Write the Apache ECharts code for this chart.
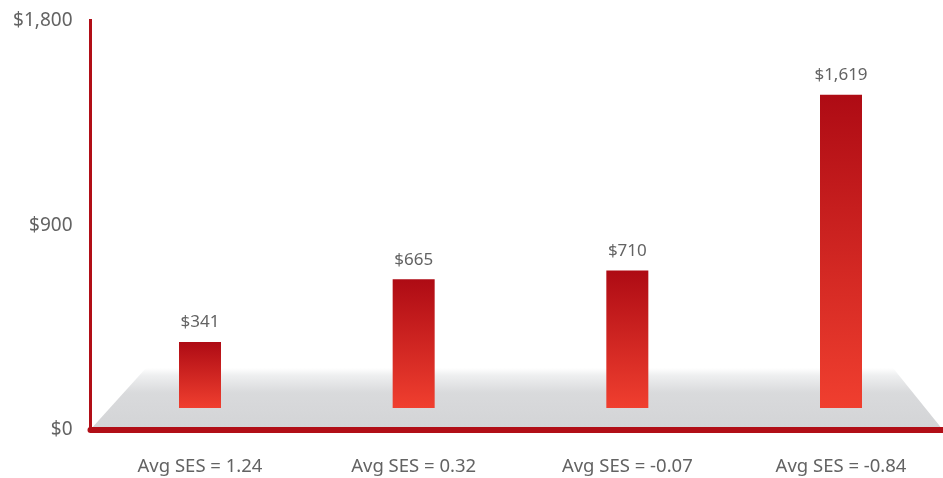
<!DOCTYPE html>
<html>
<head>
<meta charset="utf-8">
<script src="https://cdn.jsdelivr.net/npm/echarts@6/dist/echarts.min.js"></script>
<style>
  html, body { margin: 0; padding: 0; background: #fff; }
  #chart { width: 943px; height: 478px; }
</style>
</head>
<body>
<div id="chart"></div>
<script>
  // chart data
  var categories = ['Avg SES = 1.24', 'Avg SES = 0.32', 'Avg SES = -0.07', 'Avg SES = -0.84']
  var spending = [341, 665, 710, 1619]
  var yTicks = [0, 900, 1800]

  var red = '#b10e17'
  var textColor = '#636363'
  var font = '"Noto Sans", sans-serif'

  function money(v) {
    return '$' + Number(v).toLocaleString('en-US')
  }

  var chart = echarts.init(document.getElementById('chart'))

  var option = {
    animation: false,
    grid: [
      // visible frame: y axis and red baseline
      { left: 90.5, right: 0, top: 20.5, bottom: 48, containLabel: false },
      // bars sit on the grey floor
      { left: 200, right: 102, top: 21, bottom: 70, containLabel: false }
    ],
    graphic: [
      {
        type: 'polygon',
        z: -1,
        silent: true,
        shape: { points: [[90, 430], [146, 368], [893, 368], [943, 430]] },
        style: {
          fill: new echarts.graphic.LinearGradient(0, 0, 0, 1, [
            { offset: 0, color: '#ffffff' },
            { offset: 0.12, color: '#eeeff0' },
            { offset: 0.4, color: '#d9dadc' },
            { offset: 1, color: '#d3d4d6' }
          ])
        }
      }
    ],
    xAxis: [
      {
        gridIndex: 0,
        type: 'category',
        data: categories,
        offset: 3,
        axisLine: { show: true, lineStyle: { color: red, width: 6, cap: 'round' } },
        axisTick: { show: false },
        axisLabel: { show: false },
        splitLine: { show: false }
      },
      {
        gridIndex: 1,
        type: 'category',
        data: categories,
        boundaryGap: false,
        axisLine: { show: false },
        axisTick: { show: false },
        axisLabel: {
          margin: 49,
          color: textColor,
          fontFamily: font,
          fontSize: 18.5
        }
      }
    ],
    yAxis: [
      {
        gridIndex: 0,
        type: 'value',
        min: yTicks[0],
        max: yTicks[yTicks.length - 1],
        interval: 900,
        axisLine: { show: true, lineStyle: { color: red, width: 3, cap: 'square' } },
        axisTick: { show: false },
        splitLine: { show: false },
        axisLabel: {
          margin: 18,
          color: textColor,
          fontFamily: font,
          fontSize: 19,
          formatter: function (v) { return money(v) }
        }
      },
      {
        gridIndex: 1,
        type: 'value',
        min: 0,
        max: 2000,
        show: false
      }
    ],
    series: [
      {
        type: 'bar',
        xAxisIndex: 1,
        yAxisIndex: 1,
        data: spending,
        barWidth: 42,
        itemStyle: {
          color: new echarts.graphic.LinearGradient(0, 0, 0, 1, [
            { offset: 0, color: '#ae0b14' },
            { offset: 1, color: '#f03f2f' }
          ])
        },
        label: {
          show: true,
          position: 'top',
          distance: 11,
          color: textColor,
          fontFamily: font,
          fontSize: 17,
          formatter: function (p) { return money(p.value) }
        }
      }
    ]
  }

  chart.setOption(option)
</script>
</body>
</html>
